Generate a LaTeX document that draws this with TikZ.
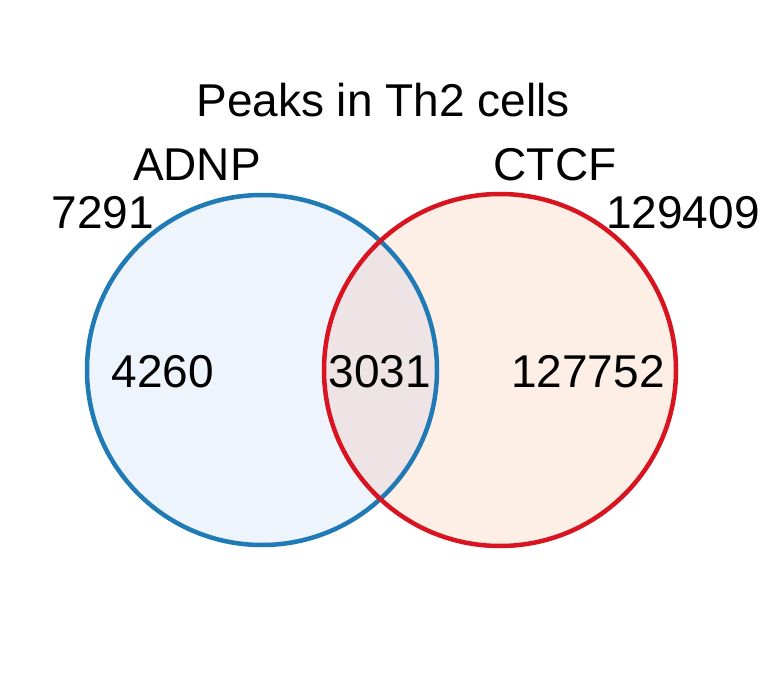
\documentclass[tikz,border=0pt]{standalone}
\usepackage{fontspec}
\setmainfont{Liberation Sans}
\definecolor{bl}{HTML}{1F7AB5}
\definecolor{rd}{HTML}{D7141F}
\definecolor{blf}{HTML}{EEF4FB}
\definecolor{rdf}{HTML}{FDEFE6}
\definecolor{ovf}{HTML}{EEE4E6}
\begin{document}
\begin{tikzpicture}[x=1pt,y=-1pt,
  lbl/.style={font=\fontsize{46}{50}\selectfont, inner sep=0pt}]
\useasboundingbox (0,0) rectangle (769,695);
\fill[white] (0,0) rectangle (769,695);
\fill[blf] (262,370) circle (175);
\fill[rdf] (500,370) circle (176);
\begin{scope}
\clip (262,370) circle (175);
\fill[ovf] (500,370) circle (176);
\end{scope}
\draw[bl, line width=4.5pt] (262,370) circle (175) coordinate (A);
\draw[rd, line width=4.5pt] (500,370) circle (176) coordinate (B);
\node[lbl] (t) at (383,100) {Peaks in Th2 cells};
\node[lbl] (a) at (197,165) {ADNP};
\node[lbl] (c) at (555,165) {CTCF};
\node[lbl] (na) at (103,213) {7291};
\node[lbl] (nc) at (683,213) {129409};
\node[lbl] (x1) at (163,372) {4260};
\node[lbl] (x2) at (380,372) {3031};
\node[lbl] (x3) at (588,372) {127752};
\end{tikzpicture}
\end{document}
